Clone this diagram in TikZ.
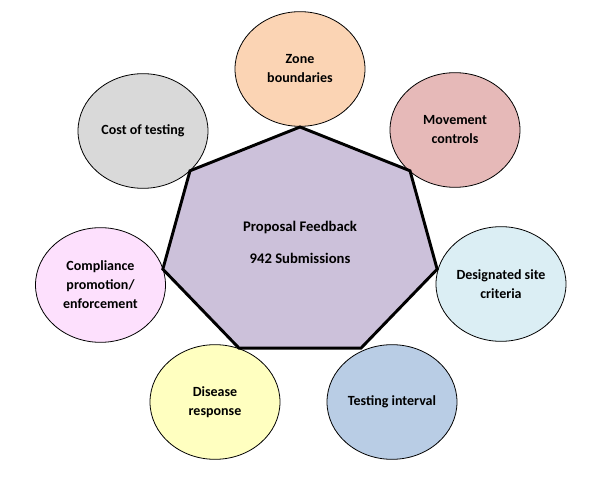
\documentclass[tikz,border=0pt]{standalone}
\usepackage{fontspec}
\setmainfont{Carlito}
\usetikzlibrary{shapes.geometric}
\definecolor{hubfill}{RGB}{204,193,218}
\definecolor{zonefill}{RGB}{251,212,180}
\definecolor{costfill}{RGB}{217,217,217}
\definecolor{movefill}{RGB}{230,185,184}
\definecolor{sitefill}{RGB}{219,238,244}
\definecolor{complyfill}{RGB}{253,224,253}
\definecolor{diseasefill}{RGB}{255,255,192}
\definecolor{intervalfill}{RGB}{185,205,229}
\tikzset{
  topic/.style={ellipse, draw=black, line width=0.6pt, minimum width=97.5pt, minimum height=86pt,
    inner sep=0pt, align=center, font=\fontsize{10.5}{14.25}\selectfont\bfseries},
  hept/.style={draw=black, fill=hubfill, line width=2.2pt, line join=miter},
}
\begin{document}
\begin{tikzpicture}[x=0.75pt, y=-0.75pt]
	\useasboundingbox (0,0) rectangle (601,481);
	% Centre of the heptagon
	\path (300,243.3) coordinate (O);
	% Ellipses round the heptagon
	\node[topic, fill=zonefill] (zone) at (300,69) {Zone\\boundaries};
	\node[topic, fill=costfill] (cost) at (143,131) {Cost of testing};
	\node[topic, fill=movefill] (move) at (455,130) {Movement\\controls};
	\node[topic, fill=sitefill] (site) at (501,284) {Designated site\\criteria};
	\node[topic, fill=complyfill] (comply) at (100.5,285) {Compliance\\promotion/\\enforcement};
	\node[topic, fill=diseasefill] (disease) at (215,402) {Disease\\response};
	\node[topic, fill=intervalfill] (interval) at (392,402) {Testing interval};
	% The heptagon, stretched sideways
	\draw[hept, shift={(O)}] (-90:140.7 and 116.3)
	\foreach \k in {1,...,6} { -- ({-90+\k*360/7}:140.7 and 116.3) } -- cycle;
	% Title in the middle
	\node[align=center, font=\fontsize{11}{14.25}\selectfont\bfseries] (hub) at (300,242) {Proposal Feedback\\[9.75pt]942 Submissions};
\end{tikzpicture}
\end{document}
